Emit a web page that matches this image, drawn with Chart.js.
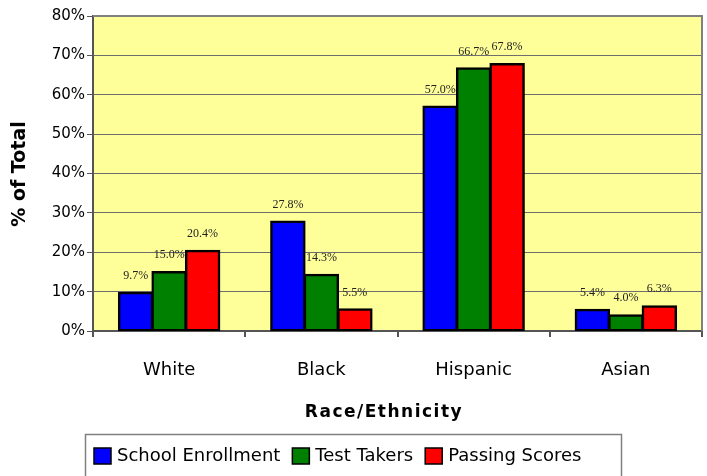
<!DOCTYPE html>
<html>
<head>
<meta charset="utf-8">
<script src="https://cdn.jsdelivr.net/npm/chart.js@4.4.0/dist/chart.umd.min.js"></script>
<style>
  html, body { margin: 0; padding: 0; background: #fff; }
  #wrap { width: 707px; height: 476px; }
</style>
</head>
<body>
<div id="wrap"><canvas id="chart" width="707" height="476"></canvas></div>
<script>
const categories = ['White', 'Black', 'Hispanic', 'Asian'];
const seriesNames = ['School Enrollment', 'Test Takers', 'Passing Scores'];
const schoolEnrollment = [9.7, 27.8, 57.0, 5.4];
const testTakers = [15.0, 14.3, 66.7, 4.0];
const passingScores = [20.4, 5.5, 67.8, 6.3];
const seriesColors = ['#0000FF', '#008000', '#FF0000'];
const yTicks = [0, 10, 20, 30, 40, 50, 60, 70, 80];

const plotDecor = {
  id: 'plotDecor',
  beforeDraw(chart) {
    const { ctx, chartArea: a } = chart;
    ctx.save();
    ctx.fillStyle = '#FFFF99';
    ctx.fillRect(a.left, a.top, a.right - a.left, a.bottom - a.top);
    ctx.restore();
  },
  afterDraw(chart) {
    const { ctx, chartArea: a } = chart;
    ctx.save();
    // top and right frame of the plot area
    ctx.strokeStyle = '#808080';
    ctx.lineWidth = 2;
    ctx.beginPath();
    ctx.moveTo(a.left, a.top);
    ctx.lineTo(a.right, a.top);
    ctx.lineTo(a.right, a.bottom);
    ctx.stroke();

    // value labels
    ctx.font = '12px "Liberation Serif", "Times New Roman", serif';
    ctx.fillStyle = '#222';
    ctx.textAlign = 'center';
    ctx.textBaseline = 'middle';
    chart.data.datasets.forEach((ds, i) => {
      chart.getDatasetMeta(i).data.forEach((bar, j) => {
        ctx.fillText(ds.data[j].toFixed(1) + '%', bar.x, bar.y - 17);
      });
    });

    // axis titles
    ctx.fillStyle = '#000';
    ctx.font = 'bold 19px "DejaVu Sans", sans-serif';
    ctx.save();
    ctx.translate(20, 174);
    ctx.rotate(-Math.PI / 2);
    ctx.fillText('% of Total', 0, 0);
    ctx.restore();
    ctx.font = 'bold 17px "DejaVu Sans", sans-serif';
    ctx.letterSpacing = '1.5px';
    ctx.fillText('Race/Ethnicity', 384, 413);
    ctx.letterSpacing = '0px';

    // legend
    ctx.strokeStyle = '#808080';
    ctx.lineWidth = 1.5;
    ctx.strokeRect(85.5, 434.5, 536, 50);
    ctx.font = '18px "DejaVu Sans", sans-serif';
    ctx.textAlign = 'left';
    let x = 94;
    const cy = 456;
    chart.data.datasets.forEach((ds) => {
      ctx.fillStyle = ds.backgroundColor;
      ctx.fillRect(x, cy - 8, 17, 16);
      ctx.strokeStyle = '#000';
      ctx.lineWidth = 1.5;
      ctx.strokeRect(x, cy - 8, 17, 16);
      ctx.fillStyle = '#000';
      ctx.fillText(ds.label, x + 23, cy);
      x += 23 + ctx.measureText(ds.label).width + 12;
    });
    ctx.restore();
  }
};

new Chart(document.getElementById('chart'), {
  type: 'bar',
  data: {
    labels: categories,
    datasets: [schoolEnrollment, testTakers, passingScores].map((d, i) => ({
      label: seriesNames[i],
      data: d,
      backgroundColor: seriesColors[i],
      borderColor: '#000',
      borderWidth: 2.5,
      borderSkipped: false,
      inflateAmount: 1
    }))
  },
  options: {
    responsive: false,
    animation: false,
    datasets: { bar: { categoryPercentage: 0.66, barPercentage: 1.0 } },
    layout: { padding: { top: 16, right: 5, left: 0, bottom: 0 } },
    plugins: { legend: { display: false }, tooltip: { enabled: false } },
    scales: {
      x: {
        afterFit(scale) { scale.height = 145; },
        grid: { drawOnChartArea: false, drawTicks: true, tickLength: 6, color: '#555', lineWidth: 2 },
        border: { color: '#555', width: 2 },
        ticks: { color: '#000', padding: 23, font: { family: '"DejaVu Sans", sans-serif', size: 18 } }
      },
      y: {
        min: 0,
        max: 80,
        afterFit(scale) { scale.width = 93; },
        afterBuildTicks(scale) { scale.ticks = yTicks.map(v => ({ value: v })); },
        grid: { color: '#6e6e6e', lineWidth: 1, tickLength: 6, tickColor: '#555' },
        border: { color: '#555', width: 2 },
        ticks: {
          color: '#000',
          padding: 2,
          font: { family: '"DejaVu Sans", sans-serif', size: 15 },
          callback: v => v + '%'
        }
      }
    }
  },
  plugins: [plotDecor]
});
</script>
</body>
</html>
